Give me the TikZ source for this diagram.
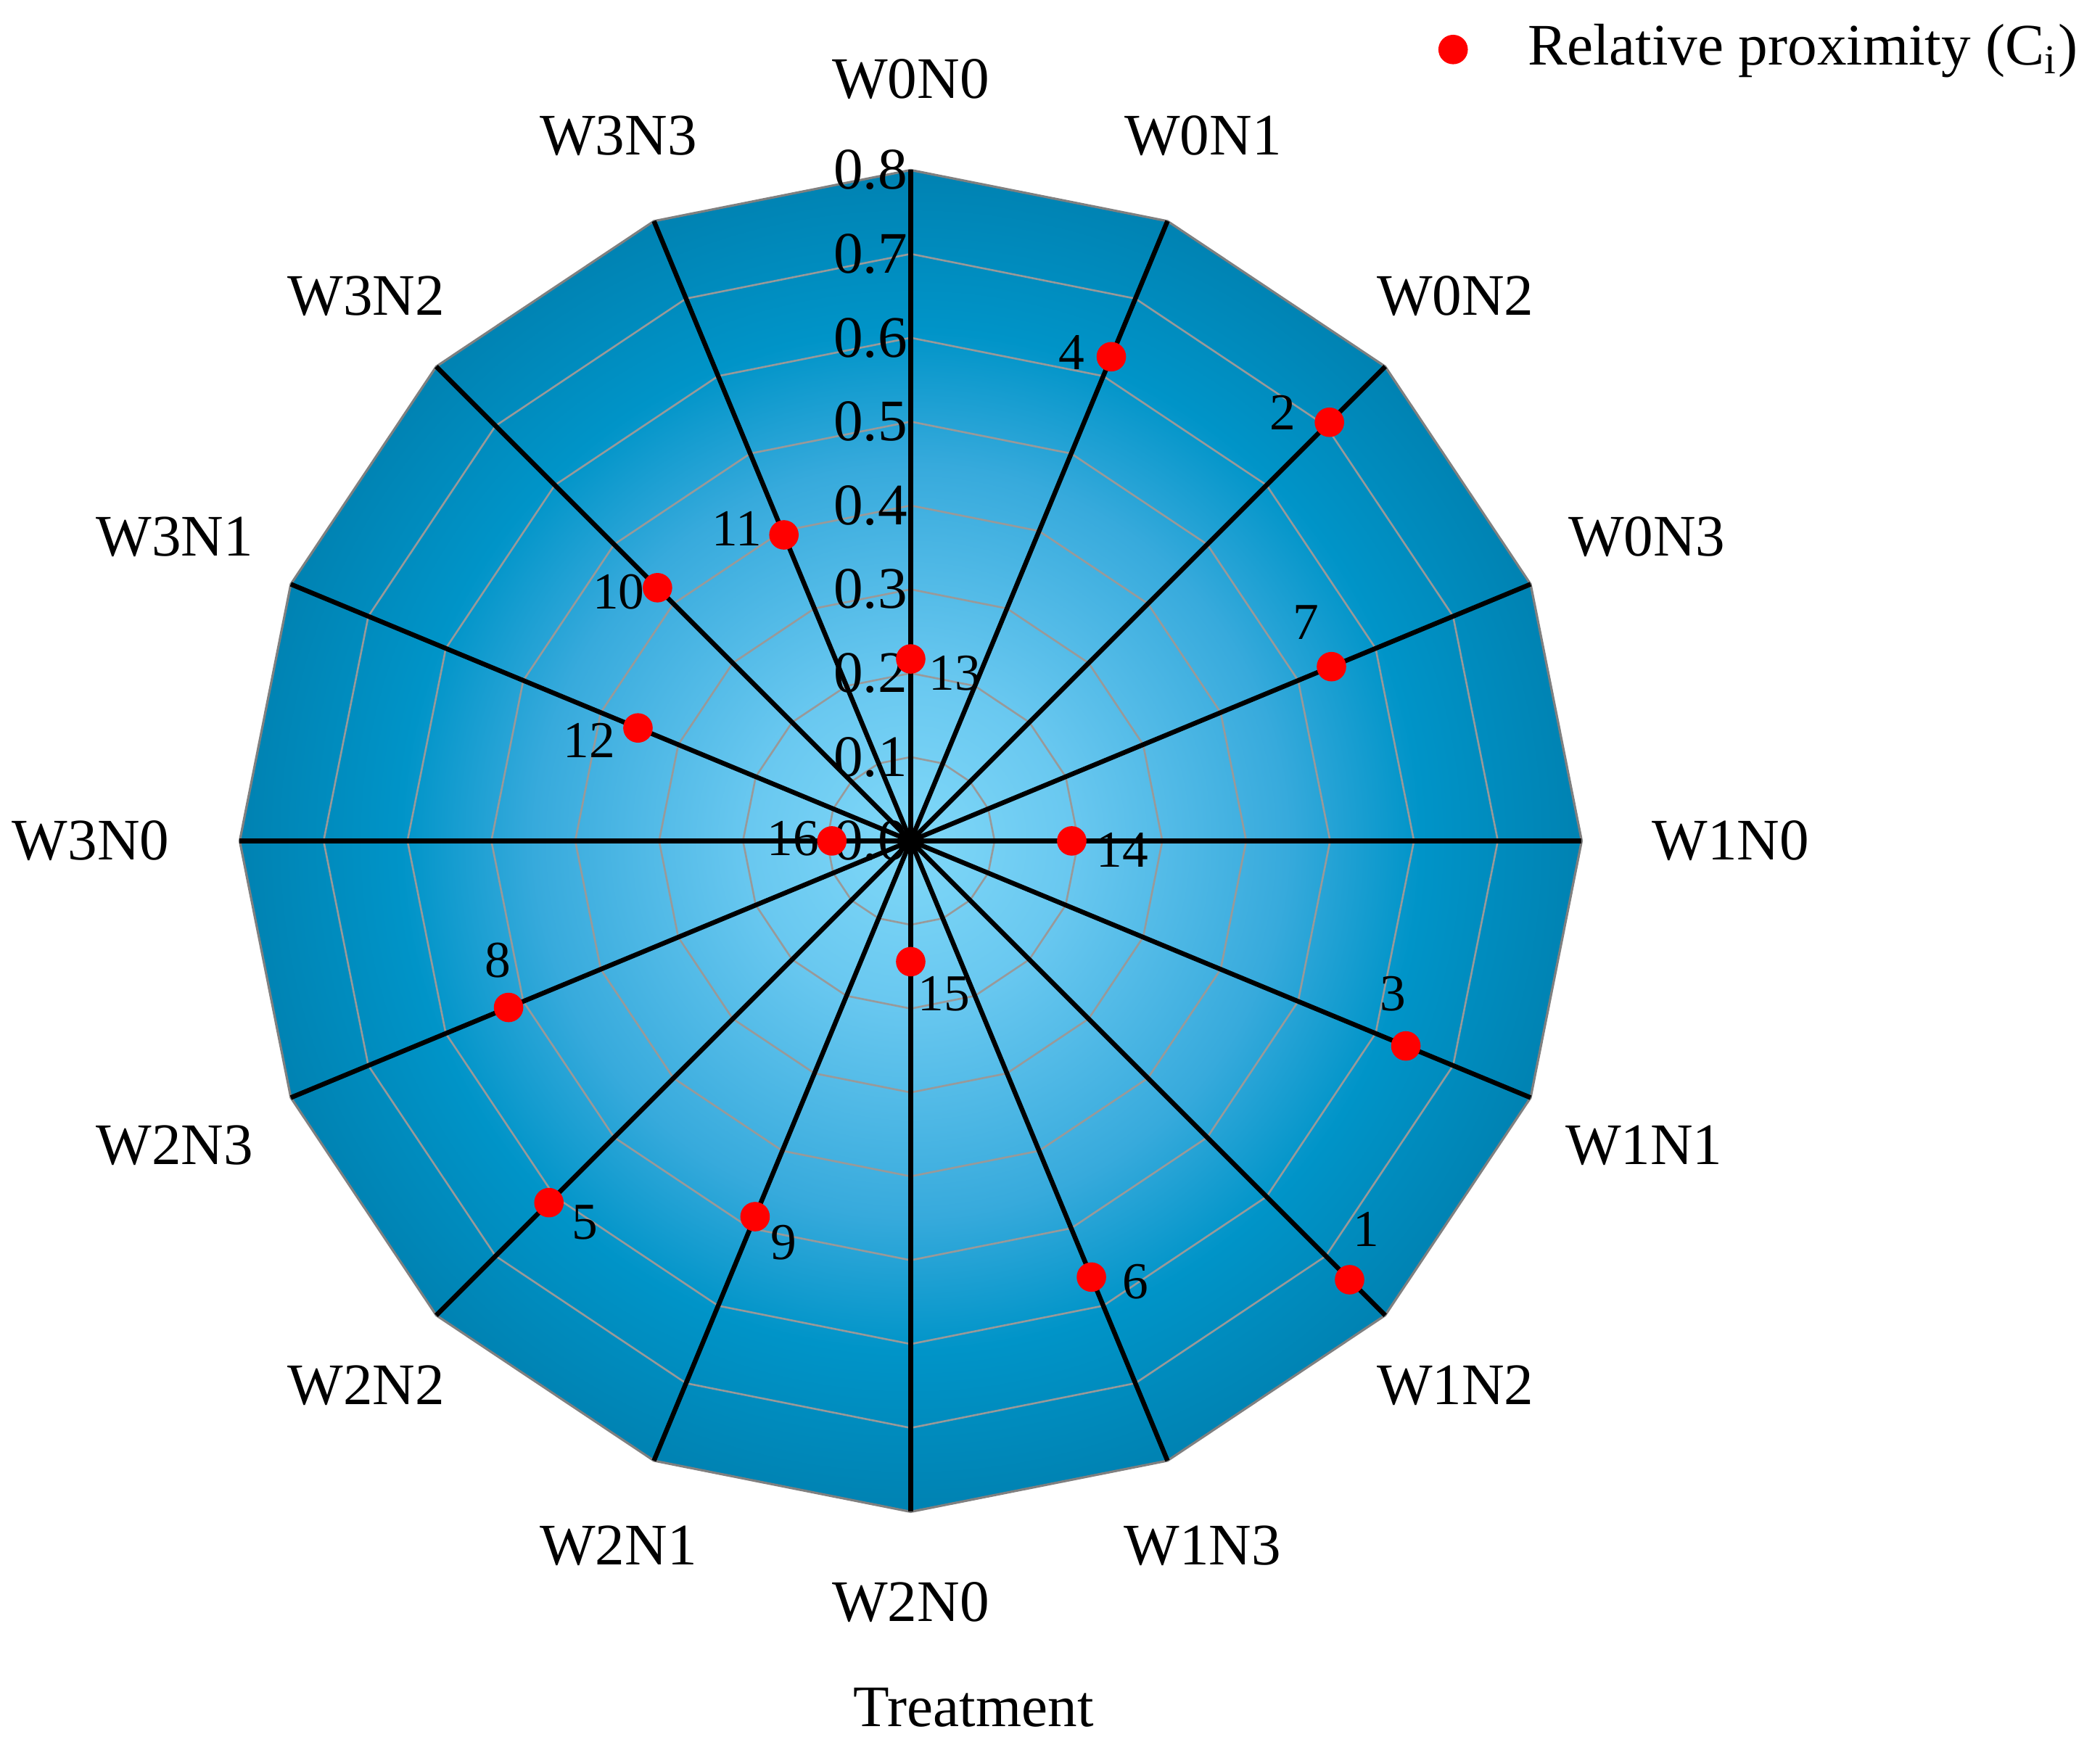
\documentclass[tikz,border=0pt]{standalone}
\usepackage{fontspec}
\setmainfont{Liberation Serif}
\definecolor{c1}{RGB}{128,216,248}
\definecolor{c2}{RGB}{105,200,240}
\definecolor{c3}{RGB}{55,170,220}
\definecolor{c4}{RGB}{0,148,200}
\definecolor{c5}{RGB}{0,130,178}
\pgfdeclareradialshading{myrad}{\pgfpoint{0bp}{0bp}}{color(0bp)=(c1); color(6bp)=(c2); color(14bp)=(c3); color(19bp)=(c4); color(25bp)=(c5); color(50bp)=(c5)}
\tikzset{
  lab/.style={font=\fontsize{12.5}{14}\selectfont, inner sep=0pt},
  tick/.style={font=\fontsize{12.5}{14}\selectfont, inner sep=0pt},
  rank/.style={font=\fontsize{11}{13}\selectfont, inner sep=0pt},
  dot/.style={circle, fill=red, inner sep=0pt, minimum size=22*0.01cm},
  grid/.style={draw=gray!80, line width=0.4pt},
  spoke/.style={draw=black, line width=1pt}
}
\begin{document}
\begin{tikzpicture}[x=0.01cm,y=0.01cm]
\useasboundingbox (0,0) rectangle (1568,1303);
\begin{scope}[shift={(680,675)}]
\coordinate (c) at (0,0);
\path[shading=myrad] (90:501) \foreach \k in {1,...,15}{ -- (90-22.5*\k:501)} -- cycle;
\foreach \v in {1,...,7}{
  \draw[grid] (90:\v*62.625) \foreach \k in {1,...,15}{ -- (90-22.5*\k:\v*62.625)} -- cycle;
}
\draw[draw=gray, line width=0.5pt] (90:501) \foreach \k in {1,...,15}{ -- (90-22.5*\k:501)} -- cycle;
\foreach \k in {0,...,15}{
  \coordinate (e\k) at (90-22.5*\k:501);
  \draw[spoke] (c) -- (e\k);
}
\foreach \v [count=\i from 0] in {0.0,0.1,0.2,0.3,0.4,0.5,0.6,0.7,0.8}{
  \node[tick] (t\i) at (-30,\i*62.625) {\v};
}
\foreach \t [count=\k from 0] in {W0N0,W0N1,W0N2,W0N3,W1N0,W1N1,W1N2,W1N3,W2N0,W2N1,W2N2,W2N3,W3N0,W3N1,W3N2,W3N3}{
  \pgfmathsetmacro{\a}{90-22.5*\k}
  \node[lab, anchor=\a+180] (l\k) at (\a:553) {\t};
}
\foreach \v [count=\k from 0] in {0.217,0.625,0.706,0.543,0.192,0.639,0.740,0.563,0.144,0.485,0.610,0.519,0.094,0.352,0.427,0.395}{
  \node[dot] (d\k) at (90-22.5*\k:\v*626.25) {};
}
\end{scope}
\node[rank] (r13) at (713,800) {13};
\node[rank] (r4) at (800,1040) {4};
\node[rank] (r2) at (958,995) {2};
\node[rank] (r7) at (975,838) {7};
\node[rank] (r14) at (838,668) {14};
\node[rank] (r3) at (1040,561) {3};
\node[rank] (r1) at (1020,385) {1};
\node[rank] (r6) at (848,346) {6};
\node[rank] (r15) at (705,561) {15};
\node[rank] (r9) at (585,375) {9};
\node[rank] (r5) at (437,390) {5};
\node[rank] (r8) at (372,586) {8};
\node[rank] (r16) at (592,677) {16};
\node[rank] (r12) at (440,750) {12};
\node[rank] (r10) at (462,861) {10};
\node[rank] (r11) at (550,908) {11};
\node[dot] (ld) at (1085,1266) {};
\node[lab, anchor=west] (lt) at (1140,1265) {Relative proximity (C$_\mathrm{i}$)};
\node[lab] (xt) at (727,28) {Treatment};
\end{tikzpicture}
\end{document}
